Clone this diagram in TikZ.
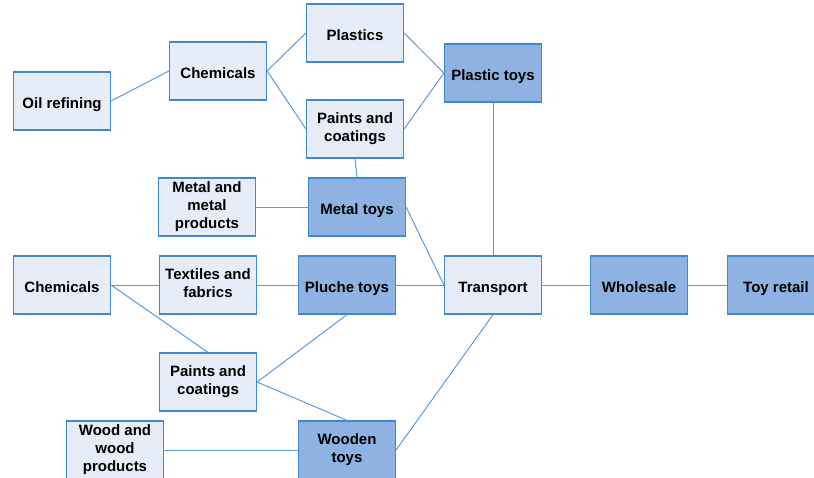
\documentclass[tikz,border=0pt]{standalone}
\usepackage{fontspec}
\setmainfont{Liberation Sans}
\usepackage{xcolor}
\usepackage{tikz}
\usetikzlibrary{positioning}

\definecolor{boxline}{HTML}{3F8ACB}
\definecolor{linkline}{HTML}{5B9BD5}
\definecolor{paleblue}{HTML}{E7EDF8}
\definecolor{toyblue}{HTML}{8EB2E2}
\newcommand{\topstrut}{\rule{0pt}{18pt}}
\newcommand{\botstrut}{\rule[-3pt]{0pt}{3pt}}

\begin{document}
\begin{tikzpicture}[
  x=1pt, y=-1pt,
  inbox/.style={
    draw=boxline, fill=paleblue, line width=1.2pt,
    minimum width=97pt, minimum height=58pt, align=center,
    font=\fontsize{15}{18}\selectfont\bfseries, inner sep=2pt,
    execute at begin node=\topstrut, execute at end node=\botstrut
  },
  toybox/.style={inbox, fill=toyblue},
  link/.style={draw=linkline, line width=1pt}
]
  \useasboundingbox (0,0) rectangle (814,477);
  \node[inbox] (oil)      at ( 62,101) {Oil refining};
  \node[inbox] (chemtop)  at (218, 71) {Chemicals};
  \node[inbox] (plastics) at (355, 33) {Plastics};
  \node[inbox] (painttop) at (355,129) {Paints and\\coatings};
  \node[toybox] (plastoy) at (493, 73) {Plastic toys};
  \node[inbox] (metal)    at (207,207) {Metal and\\metal\\products};
  \node[toybox] (metaltoy) at (357,207) {Metal toys};
  \node[inbox] (chembot)  at ( 62,285) {Chemicals};
  \node[inbox] (textile)  at (208,285) {Textiles and\\fabrics};
  \node[toybox] (plush)   at (347,285) {Pluche toys};
  \node[inbox] (transport) at (493,285) {Transport};
  \node[toybox] (wholesale) at (639,285) {Wholesale};
  \node[toybox] (retail)  at (776,285) {Toy retail};
  \node[inbox] (paintbot) at (208,382) {Paints and\\coatings};
  \node[inbox] (wood)     at (115,450) {Wood and\\wood\\products};
  \node[toybox] (woodtoy) at (347,450) {Wooden\\toys};

  \draw[link] (oil.east) -- (chemtop.west);
  \draw[link] (chemtop.east) -- (plastics.west);
  \draw[link] (chemtop.east) -- (painttop.west);
  \draw[link] (plastics.east) -- (plastoy.west);
  \draw[link] (painttop.east) -- (plastoy.west);
  \draw[link] (painttop.south) -- (metaltoy.north);
  \draw[link] (plastoy.south) -- (transport.north);
  \draw[link] (metal.east) -- (metaltoy.west);
  \draw[link] (metaltoy.east) -- (transport.west);
  \draw[link] (chembot.east) -- (textile.west);
  \draw[link] (chembot.east) -- (paintbot.north);
  \draw[link] (textile.east) -- (plush.west);
  \draw[link] (plush.east) -- (transport.west);
  \draw[link] (plush.south) -- (paintbot.east);
  \draw[link] (paintbot.east) -- (woodtoy.north);
  \draw[link] (wood.east) -- (woodtoy.west);
  \draw[link] (woodtoy.east) -- (transport.south);
  \draw[link] (transport.east) -- (wholesale.west);
  \draw[link] (wholesale.east) -- (retail.west);
\end{tikzpicture}
\end{document}
